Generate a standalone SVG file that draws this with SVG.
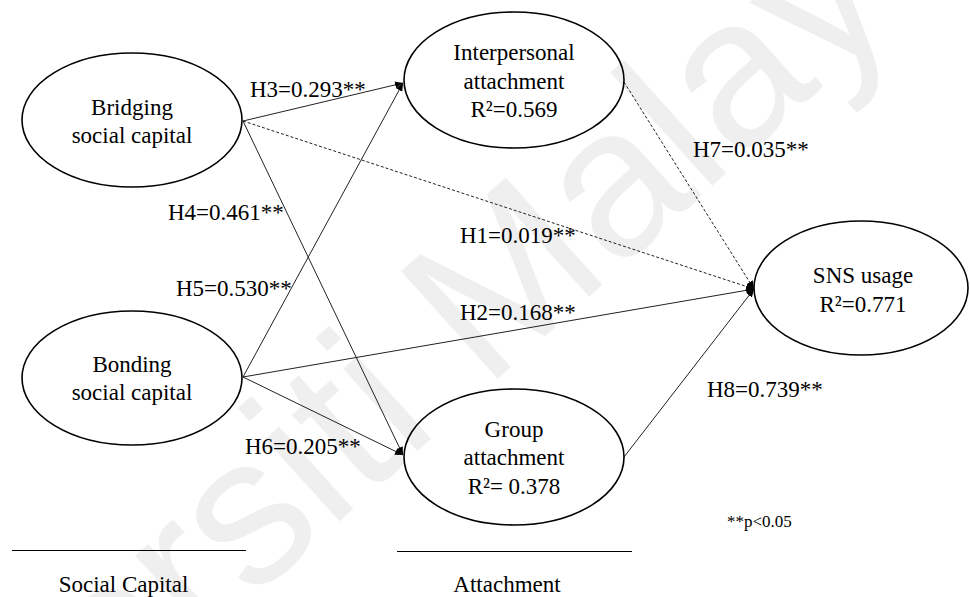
<svg xmlns="http://www.w3.org/2000/svg" width="970" height="597" viewBox="0 0 970 597">
<style>
.bg{fill:#ffffff}
.wm{font-size:210px;fill:#efefef}
.node ellipse{fill:none;stroke:#000;stroke-width:1.6}
.t{font-size:23px;fill:#000;text-anchor:middle}
.lbl{font-size:23px;fill:#000}
.note{font-size:17px;fill:#000}
.c{stroke:#222;stroke-width:1;fill:none}
.d{stroke-dasharray:3 2}
.rule{stroke:#000;stroke-width:1}
</style>
<defs>
<marker id="ah" markerUnits="userSpaceOnUse" markerWidth="9" markerHeight="8" refX="8" refY="3.5" orient="auto">
<path d="M0,0 L8,3.5 L0,7 z" fill="#000"/>
</marker>
</defs>
<rect class="bg" x="0" y="0" width="970" height="597"/>
<text class="wm" font-family="Liberation Sans, Arial, sans-serif" transform="translate(-200,1007) rotate(-42)">Universiti Malaya</text>
<g id="connectors">
<line class="c" x1="243" y1="121" x2="403" y2="83" marker-end="url(#ah)"/>
<line class="c" x1="243" y1="121" x2="403" y2="455" marker-end="url(#ah)"/>
<line class="c d" x1="243" y1="121" x2="754" y2="289" marker-end="url(#ah)"/>
<line class="c" x1="243" y1="377" x2="403" y2="83" marker-end="url(#ah)"/>
<line class="c" x1="243" y1="377" x2="403" y2="455" marker-end="url(#ah)"/>
<line class="c" x1="243" y1="377" x2="754" y2="289" marker-end="url(#ah)"/>
<line class="c d" x1="624" y1="82" x2="754" y2="289" marker-end="url(#ah)"/>
<line class="c" x1="624" y1="457" x2="754" y2="289" marker-end="url(#ah)"/>
</g>
<g font-family="Liberation Serif, Times New Roman, serif">
<g id="bridging" class="node">
<ellipse cx="132" cy="120" rx="110" ry="67"/>
<text class="t" x="132" y="115">Bridging</text>
<text class="t" x="132" y="143">social capital</text>
</g>
<g id="bonding" class="node">
<ellipse cx="132" cy="378" rx="110" ry="67"/>
<text class="t" x="132" y="372">Bonding</text>
<text class="t" x="132" y="400">social capital</text>
</g>
<g id="interpersonal" class="node">
<ellipse cx="514" cy="80" rx="110" ry="68"/>
<text class="t" x="514" y="60">Interpersonal</text>
<text class="t" x="514" y="89">attachment</text>
<text class="t" x="514" y="117">R²=0.569</text>
</g>
<g id="group" class="node">
<ellipse cx="514" cy="457" rx="110" ry="68"/>
<text class="t" x="514" y="437">Group</text>
<text class="t" x="514" y="465">attachment</text>
<text class="t" x="514" y="494">R²= 0.378</text>
</g>
<g id="sns" class="node">
<ellipse cx="861" cy="288" rx="107" ry="67"/>
<text class="t" x="863" y="283">SNS usage</text>
<text class="t" x="863" y="312">R²=0.771</text>
</g>
<g id="labels">
<text class="lbl" x="250" y="97">H3=0.293**</text>
<text class="lbl" x="168" y="220">H4=0.461**</text>
<text class="lbl" x="176" y="296">H5=0.530**</text>
<text class="lbl" x="460" y="243">H1=0.019**</text>
<text class="lbl" x="460" y="320">H2=0.168**</text>
<text class="lbl" x="245" y="454">H6=0.205**</text>
<text class="lbl" x="693" y="157">H7=0.035**</text>
<text class="lbl" x="707" y="397">H8=0.739**</text>
<text class="note" x="727" y="527">**p&lt;0.05</text>
</g>
<g id="legend">
<line class="rule" x1="12" y1="550.5" x2="246" y2="550.5"/>
<line class="rule" x1="397" y1="551.5" x2="632" y2="551.5"/>
<text class="t" x="123.5" y="592">Social Capital</text>
<text class="t" x="507" y="592">Attachment</text>
</g>
</g>
</svg>
